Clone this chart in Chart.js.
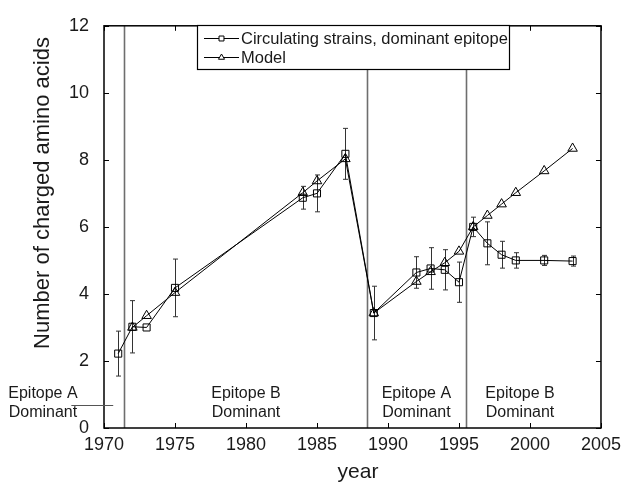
<!DOCTYPE html>
<html>
<head>
<meta charset="utf-8">
<script src="https://cdn.jsdelivr.net/npm/chart.js@4.4.1/dist/chart.umd.min.js"></script>
<style>
  html, body { margin: 0; padding: 0; background: #fff; }
  #wrap { width: 627px; height: 484px; }
</style>
</head>
<body>
<div id="wrap"><canvas id="chart" width="627" height="484"></canvas></div>
<script>
(function () {
    'use strict';

    // 观测数据：流行株优势表位上的带电氨基酸数
    var strainYears = [1971, 1972, 1973, 1975, 1984, 1985, 1987, 1989, 1992, 1993, 1994, 1995, 1996, 1997, 1998, 1999, 2001, 2003];
    var strainValues = [2.22, 3.02, 3.0, 4.18, 6.87, 7.0, 8.18, 3.43, 4.64, 4.76, 4.72, 4.35, 6.0, 5.51, 5.17, 5.0, 5.0, 4.98];
    var strainErrors = [0.67, 0.78, 0, 0.86, 0.34, 0.55, 0.76, 0.8, 0.47, 0.62, 0.6, 0.6, 0.29, 0.64, 0.4, 0.23, 0.15, 0.15];

    // 模型
    var modelYears = [1972, 1973, 1975, 1984, 1985, 1987, 1989, 1992, 1993, 1994, 1995, 1996, 1997, 1998, 1999, 2001, 2003];
    var modelValues = [3.0, 3.35, 4.04, 7.02, 7.37, 8.03, 3.43, 4.37, 4.66, 4.93, 5.27, 6.0, 6.34, 6.68, 7.02, 7.67, 8.34];

    // 优势表位切换年份（竖线）
    var switchYears = [1971.4, 1988.5, 1995.5];
    var regionLabels = [
        ['Epitope A', 'Dominant'],
        ['Epitope B', 'Dominant'],
        ['Epitope A', 'Dominant'],
        ['Epitope B', 'Dominant']
    ];

    var seriesNames = ['Circulating strains, dominant epitope', 'Model'];
    var xTicks = [1970, 1975, 1980, 1985, 1990, 1995, 2000, 2005];
    var yTicks = [0, 2, 4, 6, 8, 10, 12];

    var FONT = '"Liberation Sans", Arial, Helvetica, sans-serif';
    var INK = '#1a1a1a';

    // 区域标注的位置（年份坐标 / 数值坐标），与数据分开
    var LABEL_X = [1965.7, 1980.0, 1992.0, 1999.3];
    var LABEL_Y = [1.02, 0.47];

    function toPoints(xs, ys) {
        var out = [];
        for (var i = 0; i < xs.length; i++) out.push({ x: xs[i], y: ys[i] });
        return out;
    }

    function drawMarker(ctx, style, x, y, r) {
        Chart.helpers.drawPoint(ctx, { pointStyle: style, radius: r, rotation: 0, borderWidth: 1 }, x, y);
    }

    var overlay = {
        id: 'overlay',
        beforeDatasetsDraw: function (chart) {
            var ctx = chart.ctx, xs = chart.scales.x, ys = chart.scales.y, a = chart.chartArea;
            ctx.save();
            // 竖线
            ctx.strokeStyle = '#6e6e6e';
            ctx.lineWidth = 1.6;
            switchYears.forEach(function (yr) {
                var px = Math.round(xs.getPixelForValue(yr)) + 0.5;
                ctx.beginPath();
                ctx.moveTo(px, a.top);
                ctx.lineTo(px, a.bottom);
                ctx.stroke();
            });
            // 误差棒
            ctx.strokeStyle = '#333';
            ctx.lineWidth = 1;
            for (var i = 0; i < strainYears.length; i++) {
                var e = strainErrors[i];
                if (!e) continue;
                var px = Math.round(xs.getPixelForValue(strainYears[i])) + 0.5;
                var top = ys.getPixelForValue(strainValues[i] + e);
                var bot = ys.getPixelForValue(strainValues[i] - e);
                ctx.beginPath();
                ctx.moveTo(px, top); ctx.lineTo(px, bot);
                ctx.moveTo(px - 2.5, top); ctx.lineTo(px + 2.5, top);
                ctx.moveTo(px - 2.5, bot); ctx.lineTo(px + 2.5, bot);
                ctx.stroke();
            }
            ctx.restore();
        },
        afterDraw: function (chart) {
            var ctx = chart.ctx, xs = chart.scales.x, ys = chart.scales.y, a = chart.chartArea;
            ctx.save();

            // 边框与向内刻度
            ctx.strokeStyle = '#000';
            ctx.lineWidth = 1.5;
            ctx.strokeRect(a.left, a.top, a.right - a.left, a.bottom - a.top);
            ctx.lineWidth = 1;
            ctx.beginPath();
            xTicks.forEach(function (v) {
                var px = Math.round(xs.getPixelForValue(v)) + 0.5;
                ctx.moveTo(px, a.bottom); ctx.lineTo(px, a.bottom - 5);
                ctx.moveTo(px, a.top); ctx.lineTo(px, a.top + 5);
            });
            yTicks.forEach(function (v) {
                var py = Math.round(ys.getPixelForValue(v)) + 0.5;
                ctx.moveTo(a.left, py); ctx.lineTo(a.left + 5, py);
                ctx.moveTo(a.right, py); ctx.lineTo(a.right - 5, py);
            });
            ctx.stroke();

            // 左侧短横线（原图中的标注线）
            ctx.strokeStyle = '#555';
            ctx.beginPath();
            var hy = Math.round(ys.getPixelForValue(0.7)) + 0.5;
            ctx.moveTo(xs.getPixelForValue(1967.7), hy);
            ctx.lineTo(xs.getPixelForValue(1970.65), hy);
            ctx.stroke();

            // 区域文字
            ctx.fillStyle = INK;
            ctx.font = '16px ' + FONT;
            ctx.textAlign = 'center';
            ctx.textBaseline = 'middle';
            regionLabels.forEach(function (lines, i) {
                var px = xs.getPixelForValue(LABEL_X[i]);
                lines.forEach(function (t, j) {
                    ctx.fillText(t, px, ys.getPixelForValue(LABEL_Y[j]));
                });
            });

            // y 轴标题
            ctx.save();
            ctx.translate(43, 193);
            ctx.rotate(-Math.PI / 2);
            ctx.font = '22px ' + FONT;
            ctx.fillText('Number of charged amino acids', 0, 0);
            ctx.restore();

            // x 轴标题
            ctx.font = '21px ' + FONT;
            ctx.fillText('year', 358, 472);

            // 图例
            var lx = 197, ly = 25, lw = 312, lh = 44;
            ctx.fillStyle = '#fff';
            ctx.fillRect(lx, ly, lw, lh);
            ctx.strokeStyle = '#000';
            ctx.lineWidth = 1.2;
            ctx.strokeRect(lx + 0.5, ly + 0.5, lw, lh);
            var styles = ['rect', 'triangle'];
            ctx.font = '16.5px ' + FONT;
            ctx.textAlign = 'left';
            seriesNames.forEach(function (name, i) {
                var ry = ly + 13 + i * 19;
                ctx.strokeStyle = '#000';
                ctx.lineWidth = 1;
                ctx.beginPath();
                ctx.moveTo(lx + 7, ry + 0.5);
                ctx.lineTo(lx + 42, ry + 0.5);
                ctx.stroke();
                ctx.fillStyle = '#fff';
                ctx.strokeStyle = '#000';
                drawMarker(ctx, styles[i], lx + 24.5, ry + 0.5, 3.5);
                ctx.fillStyle = INK;
                ctx.fillText(name, lx + 44, ry + 1);
            });

            ctx.restore();
        }
    };

    new Chart(document.getElementById('chart'), {
        type: 'line',
        data: {
            datasets: [{
                label: seriesNames[0],
                data: toPoints(strainYears, strainValues),
                borderColor: '#000',
                borderWidth: 1,
                pointStyle: 'rect',
                pointRadius: 5,
                pointBorderWidth: 1,
                pointBorderColor: '#000',
                pointBackgroundColor: 'rgba(0,0,0,0)',
                tension: 0
            }, {
                label: seriesNames[1],
                data: toPoints(modelYears, modelValues),
                borderColor: '#000',
                borderWidth: 1,
                pointStyle: 'triangle',
                pointRadius: 5.5,
                pointBorderWidth: 1,
                pointBorderColor: '#000',
                pointBackgroundColor: 'rgba(0,0,0,0)',
                tension: 0
            }]
        },
        options: {
            responsive: false,
            animation: false,
            devicePixelRatio: 1,
            layout: { padding: { left: 0, top: 16, right: 24, bottom: 0 } },
            plugins: {
                legend: { display: false },
                tooltip: { enabled: false }
            },
            scales: {
                x: {
                    type: 'linear',
                    min: 1970,
                    max: 2005,
                    grid: { display: false, drawTicks: false },
                    border: { display: false },
                    afterFit: function (scale) { scale.height = 56; },
                    afterBuildTicks: function (scale) {
                        scale.ticks = xTicks.map(function (v) { return { value: v }; });
                    },
                    ticks: {
                        color: INK,
                        padding: 6,
                        maxRotation: 0,
                        font: { family: FONT, size: 18 },
                        callback: function (v) { return String(v); }
                    }
                },
                y: {
                    min: 0,
                    max: 12,
                    grid: { display: false, drawTicks: false },
                    border: { display: false },
                    afterFit: function (scale) { scale.width = 104; },
                    afterBuildTicks: function (scale) {
                        scale.ticks = yTicks.map(function (v) { return { value: v }; });
                    },
                    ticks: {
                        color: INK,
                        padding: 15,
                        font: { family: FONT, size: 18 }
                    }
                }
            }
        },
        plugins: [overlay]
    });
})();
</script>
</body>
</html>
